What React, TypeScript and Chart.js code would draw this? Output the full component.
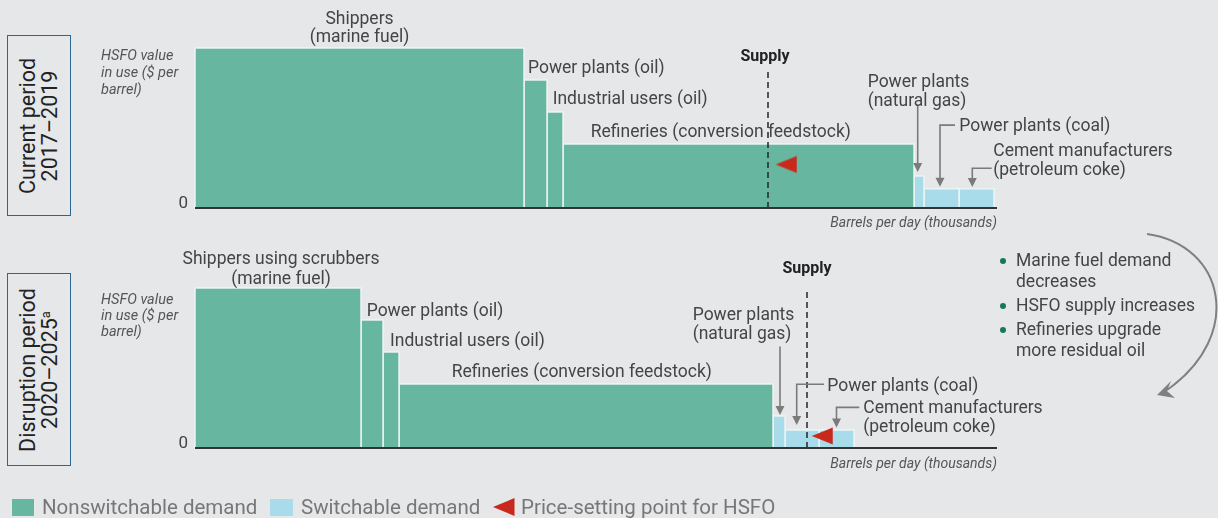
import React, { useEffect, useRef } from 'react';
import { Chart, registerables } from 'chart.js';

Chart.register(...registerables);

// ---------------- DATA ----------------
const demandSegments = [
  'Shippers (marine fuel)',
  'Power plants (oil)',
  'Industrial users (oil)',
  'Refineries (conversion feedstock)',
  'Power plants (natural gas)',
  'Power plants (coal)',
  'Cement manufacturers (petroleum coke)',
];
const segmentKinds = ['nonswitchable', 'nonswitchable', 'nonswitchable', 'nonswitchable', 'switchable', 'switchable', 'switchable'];

// Current period 2017–2019: volume (x, arbitrary thousand b/d units) and value in use (y, arbitrary $/bbl units)
const currentVolumes = [329, 23, 16, 351, 10, 35, 35];
const currentValues = [5, 4, 3, 2, 1, 0.6, 0.6];
const currentSupply = 573;
const currentPriceX = 580.7;
const currentPriceY = 1.36;

// Disruption period 2020–2025
const disruptionVolumes = [166, 22, 16, 374, 12, 34, 35];
const disruptionValues = [5, 4, 3, 2, 1, 0.56, 0.56];
const disruptionSupply = 612;
const disruptionPriceX = 616.7;
const disruptionPriceY = 0.375;

const xAxisMax = 802;
const yAxisMax = 5;

const bulletPoints = [
  ['Marine fuel demand', 'decreases'],
  ['HSFO supply increases'],
  ['Refineries upgrade', 'more residual oil'],
];

const legendItems = ['Nonswitchable demand', 'Switchable demand', 'Price-setting point for HSFO'];

// ---------------- STYLE ----------------
const BG = '#e6e7e9';
const GREEN = '#67b7a0';
const BLUE = '#a8dcea';
const RED = '#c8291c';
const TEXT = '#454545';
const ARROW = '#7b7b7b';
const FONT = "Roboto, 'Noto Sans', sans-serif";
const TDY = 1.8; // visual centring tweak for canvas text

type Label = { lines: string[]; x: number; y: number; align?: 'left' | 'center'; lh?: number };
type PanelAnnot = {
  labels: Label[];
  leaders: number[][][];
  supplyLabelX: number;
  supplyLabelY: number;
  supplyTop: number;
  yTitleY: number;
  yTitleLh: number;
  xTitleOffset: number;
};

const currentAnnot: PanelAnnot = {
  labels: [
    { lines: ['Shippers', '(marine fuel)'], x: 164.5, y: 5.94, align: 'center', lh: 18 },
    { lines: ['Power plants (oil)'], x: 333, y: 4.41 },
    { lines: ['Industrial users (oil)'], x: 357.7, y: 3.44 },
    { lines: ['Refineries (conversion feedstock)'], x: 395.7, y: 2.41 },
    { lines: ['Power plants', '(natural gas)'], x: 672.7, y: 3.97 },
    { lines: ['Power plants (coal)'], x: 764.3, y: 2.59 },
    { lines: ['Cement manufacturers', '(petroleum coke)'], x: 798.3, y: 1.81 },
  ],
  leaders: [
    [[722.7, 3.19], [722.7, 1.125]],
    [[760, 2.59], [745, 2.59], [745, 0.666]],
    [[796.7, 1.24], [777.3, 1.24], [777.3, 0.656]],
  ],
  supplyLabelX: 570,
  supplyLabelY: 4.78,
  supplyTop: 4.375,
  yTitleY: 4.78,
  yTitleLh: 16.7,
  xTitleOffset: 14,
};

const disruptionAnnot: PanelAnnot = {
  labels: [
    { lines: ['Shippers using scrubbers', '(marine fuel)'], x: 86, y: 5.93, align: 'center', lh: 19.4 },
    { lines: ['Power plants (oil)'], x: 171.7, y: 4.33 },
    { lines: ['Industrial users (oil)'], x: 195, y: 3.375 },
    { lines: ['Refineries (conversion feedstock)'], x: 256.7, y: 2.42 },
    { lines: ['Power plants', '(natural gas)'], x: 497.7, y: 4.19 },
    { lines: ['Power plants (coal)'], x: 632.3, y: 1.97 },
    { lines: ['Cement manufacturers', '(petroleum coke)'], x: 668.3, y: 1.29 },
  ],
  leaders: [
    [[585, 3.17], [585, 1.03]],
    [[629, 1.99], [601.7, 1.99], [601.7, 0.72]],
    [[664.3, 1.27], [641.5, 1.27], [641.5, 0.64]],
  ],
  supplyLabelX: 612,
  supplyLabelY: 5.66,
  supplyTop: 5.25,
  yTitleY: 4.66,
  yTitleLh: 16,
  xTitleOffset: 14.7,
};

function makeTriangle(): HTMLCanvasElement {
  const c = document.createElement('canvas');
  c.width = 44;
  c.height = 18;
  const g = c.getContext('2d')!;
  g.fillStyle = RED;
  g.beginPath();
  g.moveTo(22, 9);
  g.lineTo(43, 0.5);
  g.lineTo(43, 17.5);
  g.closePath();
  g.fill();
  return c;
}

function buildDatasets(volumes: number[], values: number[], supply: number, supplyTop: number, px: number, py: number) {
  const ds: any[] = [];
  ds.push({
    type: 'line',
    label: 'Price-setting point for HSFO',
    data: [{ x: px, y: py }],
    showLine: false,
    pointStyle: makeTriangle(),
    pointRadius: 10,
    order: 0,
    clip: false,
  });
  ds.push({
    type: 'line',
    label: 'Supply',
    data: [{ x: supply, y: 0 }, { x: supply, y: supplyTop }],
    borderColor: '#262626',
    borderWidth: 1.5,
    borderDash: [6, 4],
    pointRadius: 0,
    fill: false,
    order: 1,
  });
  let start = 0;
  volumes.forEach((w, i) => {
    const h = values[i];
    const kind = segmentKinds[i];
    ds.push({
      type: 'line',
      label: demandSegments[i],
      data: [
        { x: start, y: 0 },
        { x: start, y: h },
        { x: start + w, y: h },
        { x: start + w, y: 0 },
      ],
      fill: 'origin',
      backgroundColor: kind === 'switchable' ? BLUE : GREEN,
      borderColor: 'rgba(238,245,243,0.95)',
      borderWidth: 1.5,
      pointRadius: 0,
      tension: 0,
      order: 2,
      clip: false,
    });
    start += w;
  });
  return ds;
}

function makeAnnotPlugin(a: PanelAnnot) {
  return {
    id: 'annot',
    afterDatasetsDraw(chart: any) {
      const { ctx, chartArea } = chart;
      const xs = chart.scales.x;
      const ys = chart.scales.y;
      const y0 = ys.getPixelForValue(0);
      ctx.save();
      // axis baseline
      ctx.strokeStyle = '#333';
      ctx.lineWidth = 2;
      ctx.beginPath();
      ctx.moveTo(chartArea.left, y0);
      ctx.lineTo(chartArea.right, y0);
      ctx.stroke();

      // zero label
      ctx.fillStyle = TEXT;
      ctx.font = `17px ${FONT}`;
      ctx.textAlign = 'right';
      ctx.textBaseline = 'alphabetic';
      ctx.fillText('0', chartArea.left - 7, y0 - 0.5);

      // y title
      ctx.font = `italic 14.5px ${FONT}`;
      ctx.fillStyle = '#555';
      ctx.textAlign = 'left';
      ctx.textBaseline = 'middle';
      ['HSFO value', 'in use ($ per', 'barrel)'].forEach((t, i) => {
        ctx.fillText(t, chartArea.left - 94, ys.getPixelForValue(a.yTitleY) + i * a.yTitleLh + TDY);
      });

      // x title
      ctx.font = `italic 14px ${FONT}`;
      ctx.textAlign = 'right';
      ctx.fillText('Barrels per day (thousands)', chartArea.right, y0 + a.xTitleOffset + TDY);

      // Supply label
      ctx.font = `bold 16px ${FONT}`;
      ctx.fillStyle = '#222';
      ctx.textAlign = 'center';
      ctx.fillText('Supply', xs.getPixelForValue(a.supplyLabelX), ys.getPixelForValue(a.supplyLabelY) + TDY);

      // segment labels
      ctx.font = `17.5px ${FONT}`;
      ctx.fillStyle = TEXT;
      a.labels.forEach((l) => {
        ctx.textAlign = l.align || 'left';
        const lh = l.lh || 19.2;
        l.lines.forEach((t, i) => {
          ctx.fillText(t, xs.getPixelForValue(l.x), ys.getPixelForValue(l.y) + i * lh + TDY);
        });
      });

      // leader arrows
      ctx.strokeStyle = ARROW;
      ctx.fillStyle = ARROW;
      ctx.lineWidth = 1.6;
      a.leaders.forEach((pts) => {
        const p = pts.map(([vx, vy]) => [xs.getPixelForValue(vx), ys.getPixelForValue(vy)]);
        const last = p[p.length - 1];
        ctx.beginPath();
        p.forEach((q, i) => {
          const yy = i === p.length - 1 ? q[1] - 7 : q[1];
          if (i === 0) ctx.moveTo(q[0], yy);
          else ctx.lineTo(q[0], yy);
        });
        ctx.stroke();
        ctx.beginPath();
        ctx.moveTo(last[0], last[1]);
        ctx.lineTo(last[0] - 4.5, last[1] - 9);
        ctx.lineTo(last[0] + 4.5, last[1] - 9);
        ctx.closePath();
        ctx.fill();
      });
      ctx.restore();
    },
  };
}

function Panel(props: {
  volumes: number[];
  values: number[];
  supply: number;
  px: number;
  py: number;
  annot: PanelAnnot;
  top: number;
  height: number;
  padTop: number;
  padBottom: number;
}) {
  const ref = useRef<HTMLCanvasElement>(null);
  useEffect(() => {
    const chart = new Chart(ref.current!, {
      type: 'line',
      data: {
        datasets: buildDatasets(props.volumes, props.values, props.supply, props.annot.supplyTop, props.px, props.py),
      },
      options: {
        responsive: false,
        animation: false,
        events: [],
        layout: { padding: { left: 195, right: 1218 - 997, top: props.padTop, bottom: props.padBottom } },
        plugins: { legend: { display: false }, tooltip: { enabled: false } },
        scales: {
          x: { type: 'linear', min: 0, max: xAxisMax, display: false },
          y: { type: 'linear', min: 0, max: yAxisMax, display: false },
        },
      } as any,
      plugins: [makeAnnotPlugin(props.annot)],
    });
    return () => chart.destroy();
  }, []);
  return (
    <canvas
      ref={ref}
      width={1218}
      height={props.height}
      style={{ position: 'absolute', left: 0, top: props.top, width: 1218, height: props.height }}
    />
  );
}

function PeriodBox(props: { top: number; height: number; children: React.ReactNode }) {
  return (
    <div
      style={{
        position: 'absolute',
        left: 7,
        top: props.top,
        width: 64,
        height: props.height,
        boxSizing: 'border-box',
        border: '1.5px solid #2c6794',
      }}
    >
      <div
        style={{
          position: 'absolute',
          left: '50%',
          top: '50%',
          transform: 'translate(-50%, -50%) rotate(-90deg)',
          whiteSpace: 'nowrap',
          textAlign: 'center',
          font: `21.5px ${FONT}`,
          lineHeight: '22px',
          color: '#222',
        }}
      >
        {props.children}
      </div>
    </div>
  );
}

export default function App() {
  useEffect(() => {
    document.body.style.margin = '0';
    document.body.style.background = BG;
  }, []);
  return (
    <div style={{ position: 'fixed', left: 0, top: 0, width: 1218, height: 518, background: BG, overflow: 'hidden', fontFamily: FONT }}>
      <PeriodBox top={35} height={181}>
        Current period
        <br />
        2017–2019
      </PeriodBox>
      <PeriodBox top={273} height={193}>
        Disruption period
        <br />
        2020–2025<sup style={{ fontSize: '13px', verticalAlign: 'top', lineHeight: '14px' }}>a</sup>
      </PeriodBox>

      <Panel
        volumes={currentVolumes}
        values={currentValues}
        supply={currentSupply}
        px={currentPriceX}
        py={currentPriceY}
        annot={currentAnnot}
        top={0}
        height={232}
        padTop={48}
        padBottom={24}
      />
      <Panel
        volumes={disruptionVolumes}
        values={disruptionValues}
        supply={disruptionSupply}
        px={disruptionPriceX}
        py={disruptionPriceY}
        annot={disruptionAnnot}
        top={232}
        height={286}
        padTop={56}
        padBottom={70}
      />

      <svg width={1218} height={518} style={{ position: 'absolute', left: 0, top: 0, pointerEvents: 'none' }}>
        <path d="M1147,234 C1225,245 1245,335 1167,390" fill="none" stroke="#808080" strokeWidth={2} />
        <path d="M1157,395 L1171,381 L1167,391 L1175,398 Z" fill="#808080" />
      </svg>

      <div style={{ position: 'absolute', left: 1000, top: 250, font: `17.5px ${FONT}`, lineHeight: '21px', color: TEXT }}>
        {bulletPoints.map((b, i) => (
          <div key={i} style={{ position: 'relative', paddingLeft: 16, marginBottom: 3, whiteSpace: 'nowrap' }}>
            <span
              style={{ position: 'absolute', left: 0, top: 8, width: 6, height: 6, borderRadius: 3, background: '#13795a' }}
            />
            {b.map((t, j) => (
              <div key={j}>{t}</div>
            ))}
          </div>
        ))}
      </div>

      <div style={{ position: 'absolute', left: 0, top: 0, font: `20.5px ${FONT}`, color: '#777' }}>
        <div style={{ position: 'absolute', left: 12, top: 499, width: 22, height: 17, background: GREEN }} />
        <div style={{ position: 'absolute', left: 42, top: 497, lineHeight: '21px', whiteSpace: 'nowrap' }}>{legendItems[0]}</div>
        <div style={{ position: 'absolute', left: 270, top: 499, width: 23, height: 17, background: BLUE }} />
        <div style={{ position: 'absolute', left: 301, top: 497, lineHeight: '21px', whiteSpace: 'nowrap' }}>{legendItems[1]}</div>
        <svg width={24} height={20} style={{ position: 'absolute', left: 492, top: 497 }}>
          <path d="M1,10 L22.5,1 L22.5,19 Z" fill={RED} />
        </svg>
        <div style={{ position: 'absolute', left: 521, top: 497, lineHeight: '21px', whiteSpace: 'nowrap' }}>{legendItems[2]}</div>
      </div>
    </div>
  );
}
